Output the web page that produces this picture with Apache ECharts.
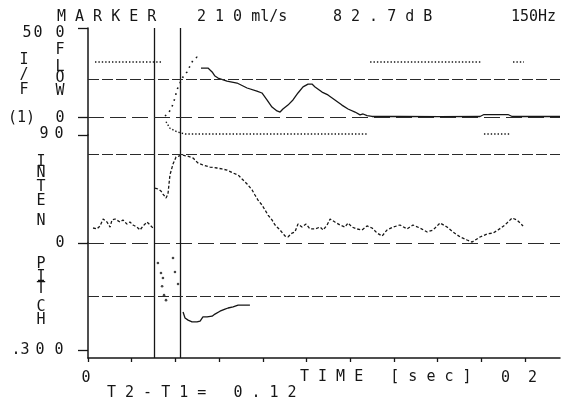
<!DOCTYPE html>
<html>
<head>
<meta charset="utf-8">
<script src="https://cdn.jsdelivr.net/npm/echarts@6/dist/echarts.min.js"></script>
<style>
html, body { margin: 0; padding: 0; background: #fff; }
#chart { width: 562px; height: 406px; }
</style>
</head>
<body>
<div id="chart"></div>
<script>
// time axis, seconds
const timeMax = 0.216;
const timeTicks = [0, 0.02, 0.04, 0.06, 0.08, 0.1, 0.12, 0.14, 0.16, 0.18, 0.2];
const cursorTimes = [0.0305, 0.0424];
const markerFlow = 210;   // ml/s
const markerInten = 74;
const markerPitch = 150;  // Hz

// air flow (ml/s): dotted onset, then the drawn curve
const flowRiseTime = [0.0352, 0.0366, 0.0384, 0.0398, 0.0407, 0.0421, 0.0435, 0.0453, 0.0467, 0.0481, 0.0499, 0.0508];
const flowRiseValue = [6, 17, 56, 107, 152, 191, 225, 253, 287, 320, 337, 326];
const flowTime = [0.0517, 0.0549, 0.0568, 0.0581, 0.0595, 0.0636, 0.0682, 0.0728, 0.0773, 0.0796, 0.0819, 0.0842, 0.0865,
  0.0879, 0.0892, 0.0915, 0.0938, 0.0961, 0.0984, 0.1007, 0.1025, 0.1039, 0.1071, 0.1098, 0.1130, 0.1162, 0.1190,
  0.1222, 0.1245, 0.1259, 0.1277, 0.1300, 0.1428, 0.1611, 0.1794, 0.1812, 0.1922, 0.1941, 0.2160];
const flowValue = [275, 275, 253, 230, 219, 202, 191, 163, 146, 135, 96, 56, 34,
  28, 45, 67, 96, 135, 169, 185, 185, 169, 140, 124, 96, 67, 45,
  28, 12, 17, 8, 3, 3, 2, 3, 14, 14, 3, 3];

// I/F indicator (two levels), null = pen up
const ifTime = [0.0032, 0.0343, 0.0348, 0.0357, 0.0375, 0.0407, 0.0444, 0.1277, 0.1284, 0.1291, 0.1803, 0.1807,
  0.1812, 0.1931, 0.1938, 0.1945, 0.1995];
const ifValue = [1, 1, null, 0.17, 0.08, 0.03, 0, 0, null, 1, 1, null, 0, 0, null, 1, 1];

// intensity (dB)
const intenTime = [0.0023, 0.0041, 0.0055, 0.0069, 0.0087, 0.0101, 0.0110, 0.0124, 0.0133, 0.0146, 0.0160, 0.0178,
  0.0192, 0.0206, 0.0224, 0.0238, 0.0252, 0.0270, 0.0284, 0.0297, 0.0302,
  0.0307, 0.0320, 0.0334, 0.0343, 0.0357, 0.0366, 0.0375, 0.0389, 0.0403, 0.0412, 0.0430, 0.0453, 0.0481, 0.0503,
  0.0526, 0.0558, 0.0590, 0.0613, 0.0636, 0.0664, 0.0687, 0.0705, 0.0728, 0.0751, 0.0764, 0.0778, 0.0796, 0.0810,
  0.0824, 0.0842, 0.0856, 0.0879, 0.0902, 0.0915, 0.0934, 0.0947, 0.0961, 0.0979, 0.0998, 0.1016, 0.1039, 0.1062,
  0.1076, 0.1094, 0.1108, 0.1130, 0.1153, 0.1176, 0.1190, 0.1208, 0.1231, 0.1254, 0.1277, 0.1300, 0.1323, 0.1346,
  0.1368, 0.1396, 0.1428, 0.1460, 0.1487, 0.1519, 0.1552, 0.1579, 0.1611, 0.1643, 0.1670, 0.1703, 0.1735, 0.1758,
  0.1794, 0.1826, 0.1854, 0.1876, 0.1908, 0.1941, 0.1963, 0.1991];
const intenValue = [12.5, 11.7, 14.2, 20, 17.5, 13.3, 19.2, 20, 20.8, 17.5, 19.2, 15.8,
  17.5, 15, 13.3, 10.8, 14.2, 17.5, 15, 12.5, null,
  45.8, 45, 43.3, 40.8, 37.5, 40.8, 56.7, 65.8, 71.7, 73.3, 73.3, 72.5, 70.8, 66.7,
  65, 63.3, 62.5, 61.7, 60.8, 58.3, 56.7, 53.3, 49.2, 44.2, 40, 35.8, 31.7, 27.5,
  23.3, 19.2, 15, 10.8, 5.8, 5, 8.3, 9.2, 15.8, 13.3, 15.8, 11.7, 11.7, 13.3,
  10.8, 15, 20, 17.5, 15, 13.3, 16.7, 13.3, 11.7, 10.8, 14.2, 12.5, 8.3, 5.8,
  10.8, 13.3, 15, 11.7, 15, 12.5, 9.2, 10.8, 16.7, 13.3, 9.2, 5, 2.5, 0.8,
  5, 7.5, 8.3, 10.8, 15, 20.8, 19.2, 14.2];

// pitch (Hz), scale runs downward
const pitchDotTime = [0.0320, 0.0334, 0.0343, 0.0339, 0.0348, 0.0357, 0.0389, 0.0398, 0.0412];
const pitchDotValue = [56, 84, 98, 121, 146, 160, 42, 81, 115];
const pitchTime = [0.0435, 0.0444, 0.0458, 0.0476, 0.0499, 0.0513, 0.0526, 0.0545, 0.0568, 0.0581, 0.0604, 0.0627,
  0.0641, 0.0664, 0.0687, 0.0709, 0.0741];
const pitchValue = [193, 210, 216, 221, 221, 219, 207, 207, 205, 199, 191, 185, 182, 179, 174, 174, 174];

const zip = (a, b) => a.map((t, i) => [t, b[i] === null ? '-' : b[i]]);

const ink = '#161616';
const font = '15px "DejaVu Sans Mono"';

// text pieces: [text, x, y, align]
const labels = [
  ['M A R K E R', 57, 17, 'left'],
  ['2 1 0 ml/s', 197, 17, 'left'],
  ['8 2 . 7 d B', 333, 17, 'left'],
  ['150Hz', 511, 17, 'left'],
  ['5', 27, 33, 'center'], ['0', 38, 33, 'center'], ['0', 60, 33, 'center'],
  ['F', 60, 50, 'center'], ['L', 60, 67, 'center'], ['O', 60, 78, 'center'], ['W', 60, 91, 'center'],
  ['I', 24, 60, 'center'], ['/', 24, 75, 'center'], ['F', 24, 90, 'center'],
  ['(1)', 8, 118, 'left'], ['0', 60, 118, 'center'],
  ['9', 44, 134, 'center'], ['0', 59, 134, 'center'],
  ['I', 41, 162, 'center'], ['N', 41, 173, 'center'], ['T', 41, 187, 'center'], ['E', 41, 201, 'center'], ['N', 41, 221, 'center'],
  ['0', 60, 243, 'center'],
  ['P', 41, 264, 'center'], ['I', 41, 277, 'center'], ['T', 41, 289, 'center'], ['C', 41, 307, 'center'], ['H', 41, 320, 'center'],
  ['.', 16, 350, 'center'], ['3', 25, 350, 'center'], ['0', 40, 350, 'center'], ['0', 59, 350, 'center'],
  ['0', 86, 378, 'center'],
  ['0  2', 519, 378, 'center'],
  ['T I M E   [ s e c ]', 300, 377, 'left'],
  ['T 2 - T 1 =   0 . 1 2', 107, 393, 'left']
];

const axisLine = { show: true, onZero: false, lineStyle: { color: ink, width: 1.5 } };
const yAxisBase = {
  axisLine: axisLine,
  axisLabel: { show: false },
  splitLine: { show: false },
  axisTick: { show: true, length: 10, lineStyle: { color: ink, width: 1.3 } }
};
const xAxisBase = { type: 'value', min: 0, max: timeMax, splitLine: { show: false } };

const cursorLines = cursorTimes.map(t => ({ xAxis: t }));
const markerStyle = { type: [11, 3], color: '#2a2a2a', width: 1 };
const zeroStyle = { type: [16, 6], color: '#2a2a2a', width: 1.2 };
// markLine rounds its values to `precision` digits, keep the cursors exact
const markBase = {
  silent: true, symbol: 'none', precision: 4, label: { show: false },
  lineStyle: { type: 'solid', color: ink, width: 1.3 }
};

const option = {
  animation: false,
  backgroundColor: '#fff',
  grid: [
    { left: 88, right: 2, top: 28, height: 107 },
    { left: 88, right: 2, top: 135, height: 108 },
    { left: 88, right: 2, top: 243, height: 115 }
  ],
  xAxis: [
    Object.assign({ gridIndex: 0, show: false }, xAxisBase),
    Object.assign({ gridIndex: 1, show: false }, xAxisBase),
    Object.assign({
      gridIndex: 2,
      axisLine: axisLine,
      axisLabel: { show: false },
      axisTick: { show: true, length: 4, customValues: timeTicks, lineStyle: { color: ink, width: 1.3 } }
    }, xAxisBase)
  ],
  yAxis: [
    Object.assign({}, yAxisBase, { type: 'value', gridIndex: 0, min: -101, max: 500,
      axisTick: Object.assign({}, yAxisBase.axisTick, { customValues: [0, 500] }) }),
    { type: 'value', gridIndex: 0, min: -0.014, max: 1.472, show: false },
    Object.assign({}, yAxisBase, { type: 'value', gridIndex: 1, min: 0, max: 90,
      axisTick: Object.assign({}, yAxisBase.axisTick, { customValues: [0, 90] }) }),
    Object.assign({}, yAxisBase, { type: 'value', gridIndex: 2, min: 0, max: 322, inverse: true,
      axisTick: Object.assign({}, yAxisBase.axisTick, { customValues: [300] }) })
  ],
  series: [
    {
      name: 'flow onset', type: 'line', xAxisIndex: 0, yAxisIndex: 0,
      data: zip(flowRiseTime, flowRiseValue), showSymbol: false,
      lineStyle: { color: ink, width: 1.6, type: [1.6, 4.5] }
    },
    {
      name: 'flow', type: 'line', xAxisIndex: 0, yAxisIndex: 0,
      data: zip(flowTime, flowValue), showSymbol: false,
      lineStyle: { color: ink, width: 1.3 },
      markLine: Object.assign({}, markBase, {
        data: cursorLines.concat([
          { yAxis: 0, lineStyle: zeroStyle },
          { yAxis: markerFlow, lineStyle: markerStyle }
        ])
      })
    },
    {
      name: 'I/F', type: 'line', xAxisIndex: 0, yAxisIndex: 1,
      data: zip(ifTime, ifValue), showSymbol: false, connectNulls: false,
      lineStyle: { color: ink, width: 1.4, type: [1.4, 2] }
    },
    {
      name: 'intensity', type: 'line', xAxisIndex: 1, yAxisIndex: 2,
      data: zip(intenTime, intenValue), showSymbol: false, connectNulls: false,
      lineStyle: { color: ink, width: 1.3, type: [3, 2] },
      markLine: Object.assign({}, markBase, {
        data: cursorLines.concat([
          { yAxis: 0, lineStyle: zeroStyle },
          { yAxis: markerInten, lineStyle: markerStyle }
        ])
      })
    },
    {
      name: 'pitch dots', type: 'scatter', xAxisIndex: 2, yAxisIndex: 3,
      data: zip(pitchDotTime, pitchDotValue), symbol: 'circle', symbolSize: 2.6,
      itemStyle: { color: ink }
    },
    {
      name: 'pitch', type: 'line', xAxisIndex: 2, yAxisIndex: 3,
      data: zip(pitchTime, pitchValue), showSymbol: false,
      lineStyle: { color: ink, width: 1.3 },
      markLine: Object.assign({}, markBase, {
        data: cursorLines.concat([
          { yAxis: markerPitch, lineStyle: markerStyle }
        ])
      })
    }
  ],
  graphic: labels.map(l => ({
    type: 'text', x: l[1], y: l[2], silent: true,
    style: { text: l[0], font: font, fill: ink, align: l[3], verticalAlign: 'middle' }
  }))
};

const chart = echarts.init(document.getElementById('chart'));
chart.setOption(option);
</script>
</body>
</html>
